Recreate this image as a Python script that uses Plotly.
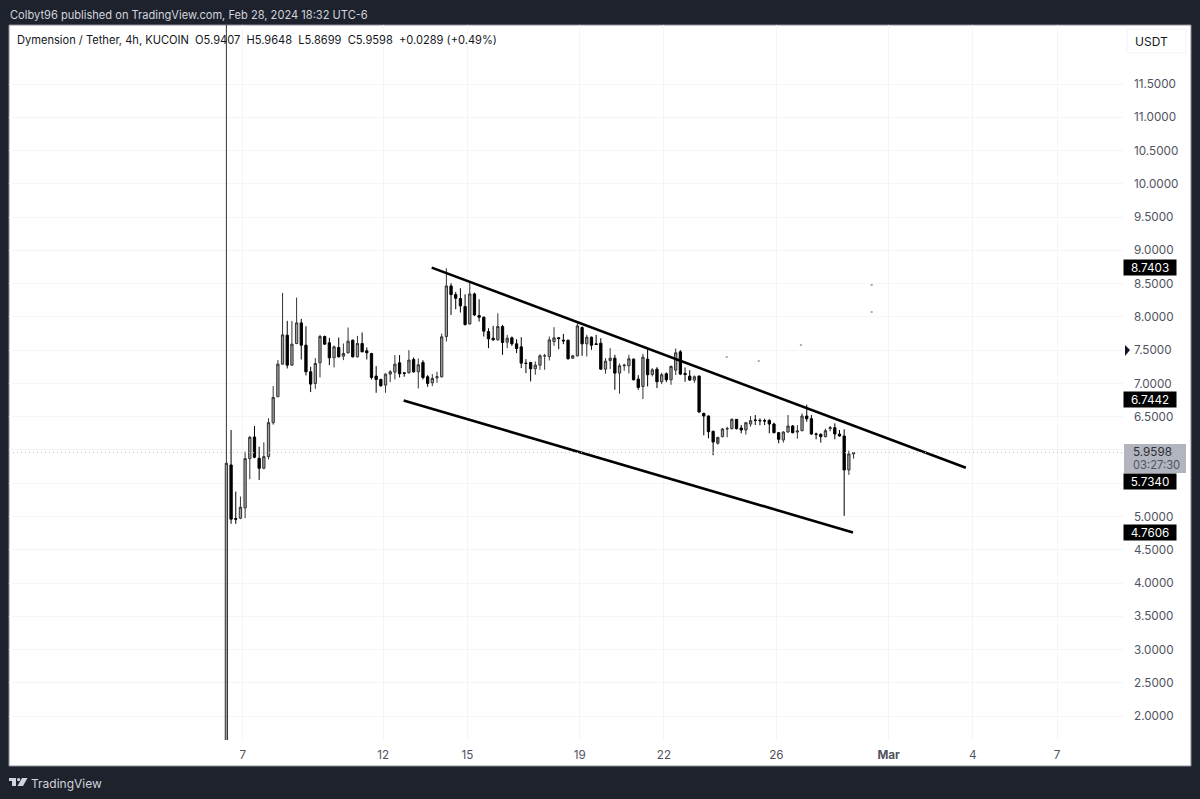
import pandas as pd
import plotly.graph_objects as go

# ---- data ----
opens = [1.50,5.775,4.97,4.975,5.13,5.87,6.195,5.875,5.725,5.90,6.41,6.80,7.29,7.725,7.275,7.60,7.91,7.575,7.175,7.00,7.31,7.705,7.61,7.385,7.54,7.41,7.46,7.65,7.40,7.60,7.49,7.45,7.11,7.06,6.975,7.14,7.17,7.31,7.16,7.16,7.36,7.175,7.315,7.10,7.01,7.085,7.10,7.705,
 8.465,8.335,8.275,8.155,7.895,8.345,8.02,7.995,7.78,7.68,7.655,7.855,7.62,7.685,7.595,7.55,7.305,7.315,7.22,7.275,7.415,7.405,7.63,7.685,7.65,7.65,7.38,7.415,7.84,7.595,7.695,7.595,7.605,7.215,7.345,7.38,7.155,7.265,7.265,7.365,7.065,6.955,7.365,7.135,7.215,7.025,7.145,7.055,
 7.20,7.475,7.15,7.11,7.05,7.11,6.55,6.51,6.28,6.10,6.20,6.315,6.32,6.46,6.33,6.30,6.39,6.45,6.445,6.44,6.445,6.39,6.26,6.15,6.27,6.36,6.27,6.29,6.51,6.47,6.24,6.235,6.20,6.32,6.335,6.24,6.21,5.70,5.9407]
highs = [12.60,6.30,5.375,5.30,5.975,6.21,6.36,6.05,6.115,6.475,6.96,7.35,8.36,7.94,7.94,8.29,7.97,7.86,7.25,7.38,7.73,7.72,7.685,7.57,7.69,7.60,7.84,7.66,7.715,7.765,7.54,7.46,7.26,7.07,7.15,7.20,7.425,7.425,7.17,7.50,7.39,7.375,7.35,7.125,7.14,7.175,7.75,8.73,
 8.505,8.375,8.43,8.34,8.53,8.365,8.265,8.005,7.83,7.865,8.055,7.88,7.73,7.705,7.665,7.695,7.365,7.325,7.33,7.44,7.445,7.705,7.845,7.695,7.745,7.655,7.43,7.905,7.855,7.73,7.705,7.73,7.68,7.38,7.53,7.43,7.30,7.295,7.43,7.375,7.125,7.445,7.515,7.23,7.245,7.16,7.165,7.27,
 7.525,7.50,7.24,7.20,7.12,7.12,6.56,6.52,6.29,6.11,6.33,6.35,6.475,6.465,6.375,6.42,6.51,6.525,6.475,6.47,6.46,6.41,6.27,6.28,6.525,6.375,6.375,6.55,6.68,6.525,6.26,6.25,6.32,6.36,6.40,6.30,6.31,5.99,5.9648]
lows = [1.50,4.89,4.89,4.96,4.975,5.56,5.875,5.55,5.71,5.86,6.38,6.795,7.285,7.225,7.27,7.59,7.36,7.12,6.87,6.92,7.09,7.585,7.275,7.24,7.39,7.35,7.45,7.39,7.39,7.47,7.36,7.06,6.86,6.95,6.86,7.02,7.06,7.09,7.10,7.15,7.16,6.925,7.06,6.95,6.96,7.01,7.09,7.63,
 8.03,8.115,8.065,7.87,7.885,8.015,7.93,7.705,7.53,7.64,7.645,7.43,7.53,7.565,7.455,7.23,7.155,7.03,7.13,7.205,7.205,7.345,7.565,7.515,7.59,7.36,7.37,7.405,7.415,7.405,7.505,7.58,7.205,7.145,7.215,6.905,6.845,7.19,7.15,7.045,6.905,6.765,6.955,7.105,6.93,6.99,7.02,6.98,
 7.125,7.125,7.025,7.04,7.01,6.56,6.22,6.175,5.92,6.08,6.19,6.19,6.31,6.31,6.25,6.23,6.35,6.375,6.37,6.375,6.25,6.25,6.10,6.11,6.26,6.25,6.17,6.28,6.425,6.23,6.16,6.11,6.19,6.28,6.16,6.20,5.01,5.625,5.8699]
closes = [5.80,4.96,4.96,5.14,5.87,6.19,5.89,5.725,5.90,6.41,6.79,7.29,7.73,7.275,7.59,7.91,7.575,7.175,6.99,7.30,7.705,7.59,7.385,7.55,7.40,7.45,7.635,7.40,7.60,7.475,7.46,7.09,7.06,6.965,7.14,7.175,7.29,7.145,7.15,7.35,7.175,7.28,7.09,7.00,7.075,7.10,7.70,8.465,
 8.335,8.28,8.165,7.885,8.345,8.03,7.995,7.785,7.67,7.655,7.855,7.615,7.68,7.595,7.525,7.305,7.30,7.22,7.275,7.415,7.415,7.655,7.685,7.675,7.64,7.37,7.415,7.865,7.595,7.695,7.575,7.585,7.215,7.335,7.38,7.155,7.265,7.275,7.37,7.055,6.94,7.395,7.13,7.205,7.025,7.13,7.055,7.255,
 7.46,7.14,7.135,7.05,7.10,6.57,6.51,6.275,6.12,6.19,6.315,6.32,6.46,6.32,6.30,6.41,6.44,6.445,6.44,6.435,6.39,6.26,6.16,6.27,6.36,6.26,6.285,6.51,6.47,6.24,6.235,6.20,6.29,6.335,6.24,6.21,5.70,5.94,5.9598]

first_bar = "2024-02-06 10:00"
upper_line_x = ["2024-02-13 17:30", "2024-03-03 18:00"]
upper_line_y = [8.7403, 5.7340]
lower_line_x = ["2024-02-12 17:30", "2024-02-28 17:30"]
lower_line_y = [6.7442, 4.7606]
speck_x = ["2024-02-29 09:30", "2024-02-29 09:30", "2024-02-24 05:36", "2024-02-25 09:00", "2024-02-26 21:00"]
speck_y = [8.479, 8.074, 7.397, 7.337, 7.578]
last_price = 5.9598
line_tags = [8.7403, 6.7442, 5.7340, 4.7606]
tag_positions = [267, 399.5, 481, 532.5]
y_ticks = [2.0, 2.5, 3.0, 3.5, 4.0, 4.5, 5.0, 5.5, 6.0, 6.5, 7.0, 7.5, 8.0, 8.5, 9.0, 9.5, 10.0, 10.5, 11.0, 11.5]
y_labels = ["2.0000","2.5000","3.0000","3.5000","4.0000","4.5000","5.0000","","","6.5000","7.0000","7.5000","8.0000","8.5000","9.0000","9.5000","10.0000","10.5000","11.0000","11.5000"]
x_ticks = ["2024-02-07", "2024-02-12", "2024-02-15", "2024-02-19", "2024-02-22", "2024-02-26", "2024-03-01", "2024-03-04", "2024-03-07"]
x_labels = ["7", "12", "15", "19", "22", "26", "<b>Mar</b>", "4", "7"]

dates = pd.date_range(first_bar, periods=len(opens), freq="4h")

# ---- page geometry (pixels) ----
W, H = 1200, 799
L, R, T, B = 9, 1123, 25, 740
FONT = "Inter, Liberation Sans, sans-serif"
DARK = "#1e222d"
px = lambda x: (x - L) / (R - L)
py = lambda y: (B - y) / (B - T)

fig = go.Figure()
fig.add_trace(go.Candlestick(
    x=dates, open=opens, high=highs, low=lows, close=closes,
    whiskerwidth=0, hoverinfo="skip",
    increasing=dict(fillcolor="#9e9e9e", line=dict(color="#333333", width=1)),
    decreasing=dict(fillcolor="#000000", line=dict(color="#000000", width=1)),
))
for lx, ly in ((upper_line_x, upper_line_y), (lower_line_x, lower_line_y)):
    fig.add_trace(go.Scatter(x=lx, y=ly, mode="lines", hoverinfo="skip",
                             line=dict(color="#000000", width=2.6)))
fig.add_trace(go.Scatter(x=speck_x, y=speck_y, mode="markers", hoverinfo="skip",
                         marker=dict(color="#a8a8a8", size=2, symbol="square")))

shapes = [
    dict(type="rect", xref="paper", yref="paper", layer="below", x0=px(9), x1=px(1191), y0=py(25), y1=py(766),
         fillcolor="#ffffff", line=dict(color="#8a8d96", width=1)),
    dict(type="line", xref="paper", yref="y", layer="above", x0=0, x1=1, y0=last_price, y1=last_price,
         line=dict(color="#b8bac2", width=1, dash="1px,3px")),
    dict(type="rect", xref="paper", yref="paper", x0=px(1124), x1=px(1186), y0=py(444), y1=py(473),
         fillcolor="#b2b5be", line=dict(width=0)),
    dict(type="path", xref="paper", yref="paper", layer="above",
         path=f"M {px(1125)} {py(345)} L {px(1130)} {py(350)} L {px(1125)} {py(356)} Z",
         fillcolor="#131722", line=dict(width=0)),
    dict(type="rect", xref="paper", yref="paper", x0=px(1127), x1=px(1186), y0=py(29), y1=py(53),
         fillcolor="#ffffff", line=dict(color="#f0f3fa", width=1)),
    # TradingView logo
    dict(type="path", xref="paper", yref="paper",
         path=(f"M {px(9)} {py(778)} L {px(16)} {py(778)} L {px(16)} {py(786)} L {px(12)} {py(786)} "
               f"L {px(12)} {py(781)} L {px(9)} {py(781)} Z"),
         fillcolor="#d1d4dc", line=dict(width=0)),
    dict(type="circle", xref="paper", yref="paper", x0=px(17), x1=px(20.2), y0=py(778), y1=py(781.2),
         fillcolor="#d1d4dc", line=dict(width=0)),
    dict(type="path", xref="paper", yref="paper",
         path=(f"M {px(22)} {py(778)} L {px(27.5)} {py(778)} L {px(23)} {py(786)} L {px(17.5)} {py(786)} Z"),
         fillcolor="#d1d4dc", line=dict(width=0)),
]

def text(x, y, s, color, size):
    return dict(xref="paper", yref="paper", x=px(x), y=py(y), text=s, showarrow=False,
                xanchor="left", yanchor="middle", align="left",
                font=dict(family=FONT, size=size, color=color), borderpad=0)

annotations = [
    text(9, 15, "Colbyt96 published on TradingView.com, Feb 28, 2024 18:32 UTC-6", "#d1d4dc", 11.1),
    text(16, 40, "Dymension / Tether, 4h, KUCOIN&#160;&#160;O5.9407&#160;&#160;H5.9648&#160;&#160;L5.8699&#160;&#160;C5.9598&#160;&#160;+0.0289 (+0.49%)", "#131722", 11.1),
    text(1134, 41, "USDT", "#131722", 12),
    text(30, 783.5, "TradingView", "#d1d4dc", 12),
    text(1131.5, 452, "5.9598", "#2a2e39", 11.7),
    text(1131.5, 465, "03:27:30", "#50535e", 11.2),
]
for v, tag_y in zip(line_tags, tag_positions):
    annotations.append(dict(xref="paper", yref="paper", x=px(1123), y=py(tag_y), text=f"{v:.4f}", showarrow=False,
                            xanchor="left", yanchor="middle", width=52, height=15, align="center",
                            bgcolor="#000000", borderpad=0,
                            font=dict(family=FONT, size=11.7, color="#ffffff")))

fig.update_layout(
    width=W, height=H,
    margin=dict(l=L, r=W - R, t=T, b=H - B, autoexpand=False),
    paper_bgcolor=DARK, plot_bgcolor="rgba(0,0,0,0)",
    showlegend=False, shapes=shapes, annotations=annotations,
    xaxis=dict(type="date", range=["2024-01-29 16:12", "2024-03-09 08:18"], rangeslider=dict(visible=False),
               tickmode="array", tickvals=x_ticks, ticktext=x_labels, ticks="", ticklen=0,
               showgrid=True, gridcolor="#f4f5f8", gridwidth=1, zeroline=False, showline=False,
               ticklabelstandoff=6,
               tickfont=dict(family=FONT, size=11.7, color="#50535e")),
    yaxis=dict(range=[1.641, 12.387], side="right", tickmode="array", tickvals=y_ticks, ticktext=y_labels,
               ticks="", showgrid=True, gridcolor="#f4f5f8", gridwidth=1, zeroline=False, showline=False,
               ticklabelstandoff=10,
               tickfont=dict(family=FONT, size=11.7, color="#50535e")),
)
fig.write_html("out.html", config={"displayModeBar": False},
               post_script="document.body.style.margin='0';document.body.style.background='#1e222d';")
